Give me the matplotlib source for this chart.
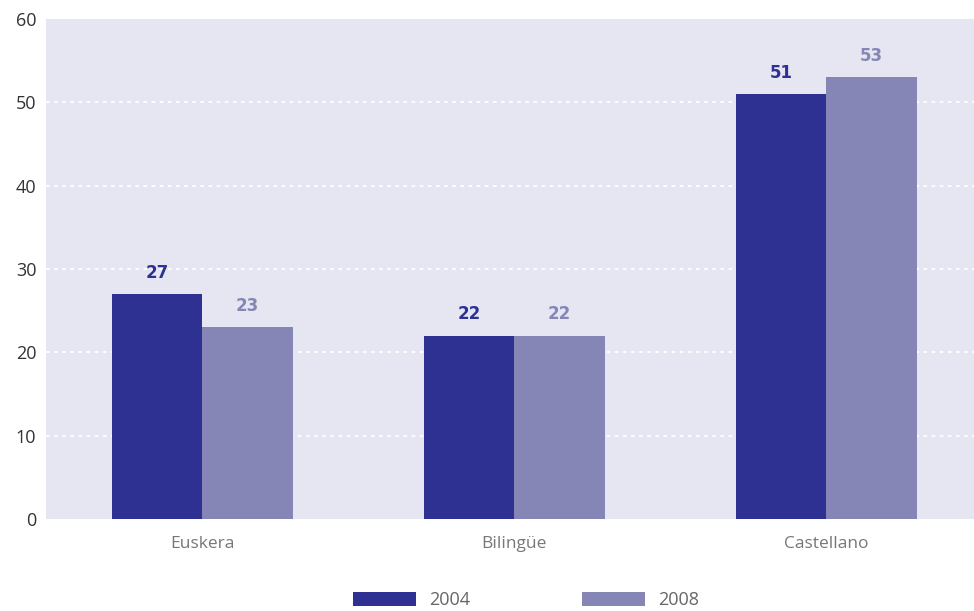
import matplotlib
matplotlib.use("Agg")
from matplotlib import pyplot as plt
import numpy as np

categories = ["Euskera", "Bilingüe", "Castellano"]
years = ["2004", "2008"]
values_2004 = [27, 22, 51]
values_2008 = [23, 22, 53]

dark = "#2e3192"
light = "#8586b5"
bg = "#e5e6f2"

plt.rcParams['font.family'] = ['Open Sans', 'DejaVu Sans']

fig = plt.figure(figsize=(9.74, 6.11), dpi=100)
ax = fig.add_axes([46/974, 92/611, 928/974, 500/611])
ax.set_facecolor(bg)

x = np.arange(len(categories))
w = 0.29
b1 = ax.bar(x - w/2, values_2004, w, color=dark, label=years[0], zorder=3)
b2 = ax.bar(x + w/2, values_2008, w, color=light, label=years[1], zorder=3)

# value labels above each bar
for bars, col in ((b1, dark), (b2, light)):
    for r in bars:
        ax.annotate(str(int(r.get_height())),
                    (r.get_x() + r.get_width()/2, r.get_height()),
                    xytext=(0, 9), textcoords="offset points",
                    ha="center", va="bottom", fontsize=12,
                    fontweight="bold", color=col, family="DejaVu Sans")

ax.set_xlim(-0.5, 2.474)
ax.set_ylim(0, 60)
ax.set_yticks(range(0, 61, 10))
ax.set_xticks(x)
ax.set_xticklabels(categories, color="#777777", fontsize=12.5)
ax.tick_params(axis="y", colors="#333333", labelsize=13, pad=7)
ax.tick_params(axis="x", pad=12)
ax.tick_params(length=0)
for s in ax.spines.values():
    s.set_visible(False)
for yv in range(10, 60, 10):
    ax.axhline(yv, color="white", lw=1.3, ls=(0, (2, 2.5)), zorder=1)

fig.legend(loc="center", bbox_to_anchor=(0.54, 11/611),
           ncol=2, frameon=False, fontsize=13, handlelength=3.5,
           handleheight=0.85, handletextpad=0.7, columnspacing=6.2,
           labelcolor="#666666")

fig.savefig("out.png", dpi=100)
